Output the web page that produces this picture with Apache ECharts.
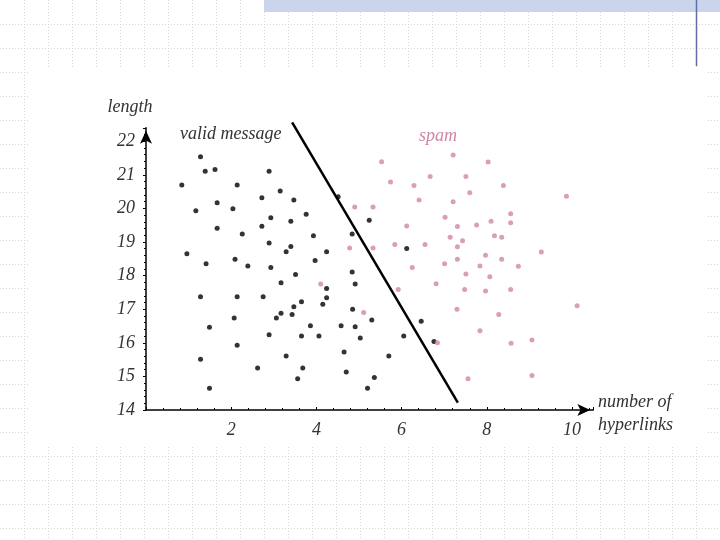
<!DOCTYPE html>
<html><head><meta charset="utf-8">
<script src="https://cdn.jsdelivr.net/npm/echarts/dist/echarts.min.js"></script>
<style>html,body{margin:0;padding:0;background:#fff}#c{width:720px;height:540px}</style>
</head><body><div id="c"></div>
<script>
// valid messages (number of hyperlinks, length)
const validPoints = [
[1.28,21.54],[1.39,21.11],[1.62,21.16],[2.89,21.11],[0.84,20.70],[2.14,20.70],[3.15,20.52],
[2.72,20.32],[3.47,20.25],[1.67,20.17],[2.04,19.99],[1.17,19.93],[2.93,19.72],[3.40,19.62],
[1.67,19.41],[2.72,19.47],[2.26,19.24],[2.89,18.97],[3.40,18.87],[3.29,18.71],[0.96,18.65],
[2.09,18.49],[1.41,18.35],[2.39,18.29],[2.93,18.24],[3.51,18.03],[3.76,19.83],[3.93,19.19],
[4.24,18.71],[3.97,18.45],[4.51,20.35],[5.24,19.65],[4.84,19.24],[6.12,18.81],[4.84,18.11],
[3.17,17.79],[1.28,17.37],[2.14,17.37],[2.75,17.37],[3.47,17.07],[3.17,16.88],[3.06,16.74],
[3.43,16.84],[2.07,16.74],[1.49,16.46],[2.89,16.24],[2.14,15.93],[3.29,15.61],[1.28,15.51],
[2.62,15.25],[3.56,14.93],[1.49,14.65],[4.24,17.62],[4.91,17.75],[4.24,17.34],[3.65,17.22],
[4.15,17.15],[4.85,17.00],[5.30,16.68],[6.46,16.64],[3.86,16.51],[4.58,16.51],[4.91,16.48],
[3.65,16.20],[4.06,16.20],[5.03,16.14],[6.05,16.20],[6.76,16.04],[4.65,15.73],[5.70,15.61],
[3.68,15.25],[4.70,15.13],[5.36,14.97],[5.20,14.65]
];
// spam messages (number of hyperlinks, length)
const spamPoints = [
[7.21,21.59],[5.53,21.39],[8.03,21.38],[5.74,20.79],[6.29,20.68],[6.67,20.95],[7.51,20.95],
[8.39,20.68],[9.87,20.36],[6.41,20.25],[7.21,20.20],[7.60,20.47],[4.90,20.04],[5.33,20.04],
[7.02,19.74],[8.56,19.84],[8.10,19.62],[8.56,19.57],[7.31,19.46],[7.76,19.51],[6.12,19.48],
[7.14,19.14],[7.43,19.04],[8.18,19.19],[8.35,19.14],[7.31,18.86],[4.78,18.82],[5.33,18.82],
[5.84,18.93],[6.55,18.93],[9.28,18.70],[7.97,18.61],[8.35,18.49],[7.31,18.49],[7.01,18.35],
[7.84,18.29],[8.74,18.28],[6.25,18.24],[7.51,18.05],[8.07,17.97],[6.81,17.76],[5.92,17.59],
[7.48,17.59],[7.97,17.54],[8.56,17.59],[10.12,17.10],[7.30,17.00],[8.28,16.84],[5.11,16.90],
[7.84,16.36],[6.84,16.00],[8.57,15.99],[9.06,16.08],[7.56,14.93],[9.06,15.03],[4.10,17.75]
];
// separating line
const boundary = [[3.43,22.56],[7.32,14.22]];
const xTickLabels = [2,4,6,8,10];
const yTickLabels = [14,15,16,17,18,19,20,21,22];

const FONT = '"Liberation Serif", "DejaVu Serif", serif';
const PINK = '#cf86a8';
const TEXT = '#333';

// decorative slide background
const bg = [];
for (let x = 24; x < 720; x += 24) {
  bg.push({type:'line', z:-100, silent:true, shape:{x1:x+0.5,y1:0,x2:x+0.5,y2:540},
    style:{stroke:'#d6d6d6', lineWidth:1, lineDash:[1,2]}});
}
for (let y = 24; y < 540; y += 24) {
  bg.push({type:'line', z:-100, silent:true, shape:{x1:0,y1:y+0.5,x2:720,y2:y+0.5},
    style:{stroke:'#d6d6d6', lineWidth:1, lineDash:[1,2]}});
}
bg.push({type:'rect', z:-90, silent:true, shape:{x:264,y:0,width:456,height:12}, style:{fill:'#cad4ea'}});
bg.push({type:'line', z:-89, silent:true, shape:{x1:696.5,y1:0,x2:696.5,y2:66}, style:{stroke:'#5b6fa0', lineWidth:1.5}});
bg.push({type:'rect', z:-80, silent:true, shape:{x:30,y:69,width:676,height:376}, style:{fill:'#ffffff'}});

const txt = (t, x, y, align, color) => ({type:'text', z:10, silent:true,
  style:{text:t, x:x, y:y, align:align, verticalAlign:'middle', textAlign:align, textVerticalAlign:'middle',
    font:'italic 18px ' + FONT, fill:color}});
bg.push(txt('length', 130, 107, 'center', TEXT));
bg.push(txt('valid message', 180, 134, 'left', TEXT));
bg.push(txt('spam', 438, 136, 'center', PINK));
bg.push(txt('number of', 598, 402, 'left', TEXT));
bg.push(txt('hyperlinks', 598, 425, 'left', TEXT));

const chart = echarts.init(document.getElementById('c'), null, {renderer:'canvas'});
chart.setOption({
  animation:false,
  backgroundColor:'transparent',
  graphic: bg,
  grid:{left:146, top:127.8, width:447.3, height:282.2, containLabel:false},
  xAxis:{type:'value', min:0, max:10.5, interval:2,
    axisLine:{show:true, symbol:['none','arrow'], symbolSize:[9,13], symbolOffset:[0,-3], lineStyle:{color:'#000', width:1.5}},
    axisTick:{show:true, inside:true, length:3, lineStyle:{color:'#000'}},
    minorTick:{show:true, splitNumber:5, length:2, lineStyle:{color:'#000'}},
    splitLine:{show:false},
    axisLabel:{margin:11, color:TEXT, fontSize:18, fontStyle:'italic', fontFamily:FONT,
      formatter: v => xTickLabels.includes(v) ? String(v) : ''}
  },
  yAxis:{type:'value', min:14, max:22.4, interval:1,
    axisLine:{show:true, symbol:['none','arrow'], symbolSize:[9,13], symbolOffset:[0,-3], lineStyle:{color:'#000', width:1.5}},
    axisTick:{show:true, inside:false, length:3, lineStyle:{color:'#000'}},
    minorTick:{show:true, splitNumber:5, length:2, lineStyle:{color:'#000'}},
    splitLine:{show:false},
    axisLabel:{margin:11, color:TEXT, fontSize:18, fontStyle:'italic', fontFamily:FONT,
      formatter: v => yTickLabels.includes(v) ? String(v) : ''}
  },
  series:[
    {type:'scatter', data:validPoints, symbol:'circle', symbolSize:5, itemStyle:{color:'#000'}, z:3},
    {type:'scatter', data:spamPoints, symbol:'circle', symbolSize:5, itemStyle:{color:PINK}, z:3},
    {type:'line', data:boundary, symbol:'none', clip:false, lineStyle:{color:'#000', width:2.5}, z:4}
  ]
});
</script>
</body></html>
